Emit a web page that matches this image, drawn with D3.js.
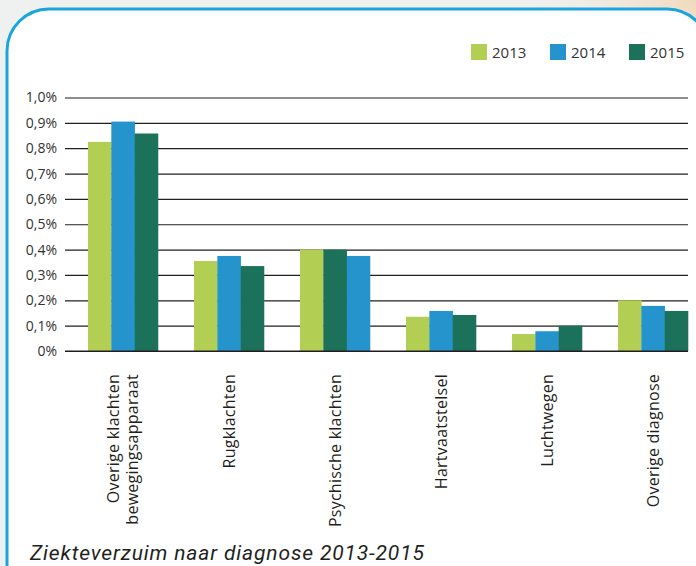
<!DOCTYPE html>
<html lang="nl">
<head>
<meta charset="UTF-8">
<title>Ziekteverzuim naar diagnose 2013-2015</title>
<script src="https://d3js.org/d3.v7.min.js"></script>
<style>
    body { margin: 0; background: #eff1f1; }
    svg { display: block; }
    .tick text { font-family: 'Open Sans', sans-serif; font-size: 14px; fill: #333; }
    .tick line { stroke: #231f20; stroke-width: 1.2; }
    .cat-label { font-family: 'Open Sans', sans-serif; font-size: 16px; fill: #231f20; letter-spacing: 0.25px; }
    .legend text { font-family: 'Open Sans', sans-serif; font-size: 15px; fill: #333; }
    .title { font-family: Roboto, sans-serif; font-style: italic; font-size: 21px; fill: #231f20; letter-spacing: 0.85px; }
</style>
</head>
<body>
<svg width="696" height="566"></svg>
<script>
    // data
    const categories = [
        "Overige klachten|bewegingsapparaat",
        "Rugklachten",
        "Psychische klachten",
        "Hartvaatstelsel",
        "Luchtwegen",
        "Overige diagnose"
    ];
    const years = ["2013", "2014", "2015"];
    const values2013 = [0.00825, 0.00355, 0.0040, 0.00135, 0.00067, 0.0020];
    const values2014 = [0.00905, 0.00375, 0.00375, 0.00158, 0.00078, 0.00178];
    const values2015 = [0.00858, 0.00335, 0.0040, 0.00142, 0.0010, 0.00158];
    // the source draws 2014/2015 swapped in the "Psychische klachten" group
    const slotOrder = [[0, 1, 2], [0, 1, 2], [0, 2, 1], [0, 1, 2], [0, 1, 2], [0, 1, 2]];
    const yTicks = [0, 0.001, 0.002, 0.003, 0.004, 0.005, 0.006, 0.007, 0.008, 0.009, 0.01];
    const colors = ["#b3cf53", "#2594cc", "#1c715a"];

    const series = [values2013, values2014, values2015];

    const svg = d3.select("svg");

    // background: soft grey with warm corner top right
    const defs = svg.append("defs");
    const warm = defs.append("radialGradient").attr("id", "warm")
        .attr("cx", "100%").attr("cy", "0%").attr("r", "30%");
    warm.append("stop").attr("offset", "0%").attr("stop-color", "#f2d9bd");
    warm.append("stop").attr("offset", "100%").attr("stop-color", "#eff1f1").attr("stop-opacity", 0);

    svg.append("rect").attr("width", 696).attr("height", 566).attr("fill", "#eff1f1");
    svg.append("rect").attr("width", 696).attr("height", 566).attr("fill", "url(#warm)");

    svg.append("rect")
        .attr("x", 7).attr("y", 9)
        .attr("width", 702).attr("height", 620)
        .attr("rx", 42)
        .attr("fill", "#fff")
        .attr("stroke", "#1aa5de")
        .attr("stroke-width", 3);

    const gridLeft = 65, gridRight = 688;

    const x = d3.scaleBand()
        .domain(categories)
        .range([88, 688])
        .paddingInner(0.34)
        .paddingOuter(0);

    const xInner = d3.scaleBand()
        .domain([0, 1, 2])
        .range([0, x.bandwidth()]);

    const y = d3.scaleLinear()
        .domain([0, 0.01])
        .range([351, 97.5]);

    const locale = d3.formatLocale({decimal: ",", thousands: ".", grouping: [3], currency: ["€", ""]});
    const pct = locale.format(".1%");

    const yAxis = d3.axisLeft(y)
        .tickValues(yTicks)
        .tickSize(-(gridRight - gridLeft))
        .tickPadding(8)
        .tickFormat(d => d === 0 ? "0%" : pct(d));

    svg.append("g")
        .attr("transform", `translate(${gridLeft},0)`)
        .call(yAxis)
        .call(g => g.select(".domain").remove());

    const rows = categories.map((c, i) => ({
        cat: c,
        bars: series.map((s, k) => ({year: k, slot: slotOrder[i][k], value: s[i]}))
    }));

    const groups = svg.append("g").selectAll("g")
        .data(rows)
        .join("g")
        .attr("transform", d => `translate(${x(d.cat)},0)`);

    groups.selectAll("rect")
        .data(d => d.bars)
        .join("rect")
        .attr("x", d => xInner(d.slot))
        .attr("width", xInner.bandwidth() + 0.3)
        .attr("y", d => y(d.value))
        .attr("height", d => y(0) - y(d.value))
        .attr("fill", d => colors[d.year]);

    // baseline over the bars
    svg.append("line")
        .attr("x1", gridLeft).attr("x2", gridRight)
        .attr("y1", y(0)).attr("y2", y(0))
        .attr("stroke", "#231f20").attr("stroke-width", 1.2);

    // rotated category labels
    const labelTop = 374;
    categories.forEach(c => {
        const lines = c.split("|");
        const cx = x(c) + x.bandwidth() / 2;
        const lh = 19;
        const t = svg.append("text")
            .attr("class", "cat-label")
            .attr("text-anchor", "end")
            .attr("transform", `translate(${cx},${labelTop}) rotate(-90)`);
        lines.forEach((l, i) => {
            t.append("tspan")
                .attr("x", 0)
                .attr("y", (i - (lines.length - 1) / 2) * lh)
                .attr("dy", "0.35em")
                .text(l);
        });
    });

    // legend
    const legend = svg.append("g").attr("class", "legend");
    const legendX = [471, 550, 629];
    years.forEach((yr, i) => {
        const g = legend.append("g").attr("transform", `translate(${legendX[i]},44)`);
        g.append("rect").attr("width", 16).attr("height", 16).attr("fill", colors[i]);
        g.append("text").attr("x", 21).attr("y", 13.5).text(yr);
    });

    svg.append("text")
        .attr("class", "title")
        .attr("x", 30)
        .attr("y", 560)
        .text("Ziekteverzuim naar diagnose 2013-2015");
</script>
</body>
</html>
